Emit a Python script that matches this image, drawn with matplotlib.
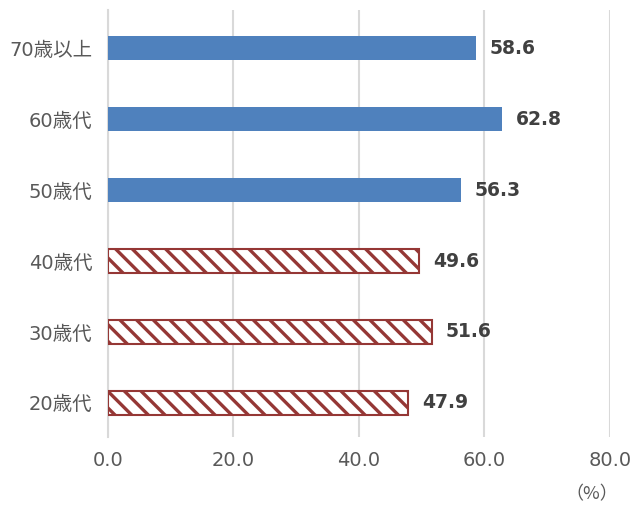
import matplotlib.pyplot as plt

plt.rcParams['font.family'] = ['DejaVu Sans', 'Noto Sans CJK JP']
plt.rcParams['hatch.linewidth'] = 2.4
plt.rcParams['hatch.color'] = '#953735'

groups = ['20歳代', '30歳代', '40歳代', '50歳代', '60歳代', '70歳以上']
values = [47.9, 51.6, 49.6, 56.3, 62.8, 58.6]
hatched = [True, True, True, False, False, False]

fig = plt.figure(figsize=(6.3, 5.07), dpi=100)
ax = fig.add_axes([0.171, 0.138, 0.797, 0.842])

for i, (v, h) in enumerate(zip(values, hatched)):
    if h:
        ax.barh(i, v, height=0.34, color='white', edgecolor='#953735',
                linewidth=1.5, hatch='\\\\', zorder=3)
    else:
        ax.barh(i, v, height=0.34, color='#4F81BD', zorder=3)
    ax.text(v + 2.2, i, f'{v:.1f}', va='center', ha='left',
            fontsize=13.5, fontweight='bold', color='#404040')

ax.set_xlim(0, 80)
ax.set_ylim(-0.48, 5.535)
ax.set_xticks([0, 20, 40, 60, 80])
ax.set_xticklabels([f'{t:.1f}' for t in [0, 20, 40, 60, 80]])
ax.set_yticks(range(len(groups)))
ax.set_yticklabels(groups)
ax.tick_params(axis='both', length=0, labelsize=14, labelcolor='#595959')
ax.tick_params(axis='x', pad=10)
ax.tick_params(axis='y', pad=11)
ax.grid(axis='x', color='#d9d9d9', linewidth=1.5, zorder=0)
for s in ['top', 'right', 'bottom']:
    ax.spines[s].set_visible(False)
ax.spines['left'].set_color('#d9d9d9')
ax.spines['left'].set_linewidth(1.5)

fig.text(0.94, 0.025, '（%）', ha='center', va='center', fontsize=13,
         color='#595959', family='Noto Sans CJK JP')

fig.savefig('out.png')
